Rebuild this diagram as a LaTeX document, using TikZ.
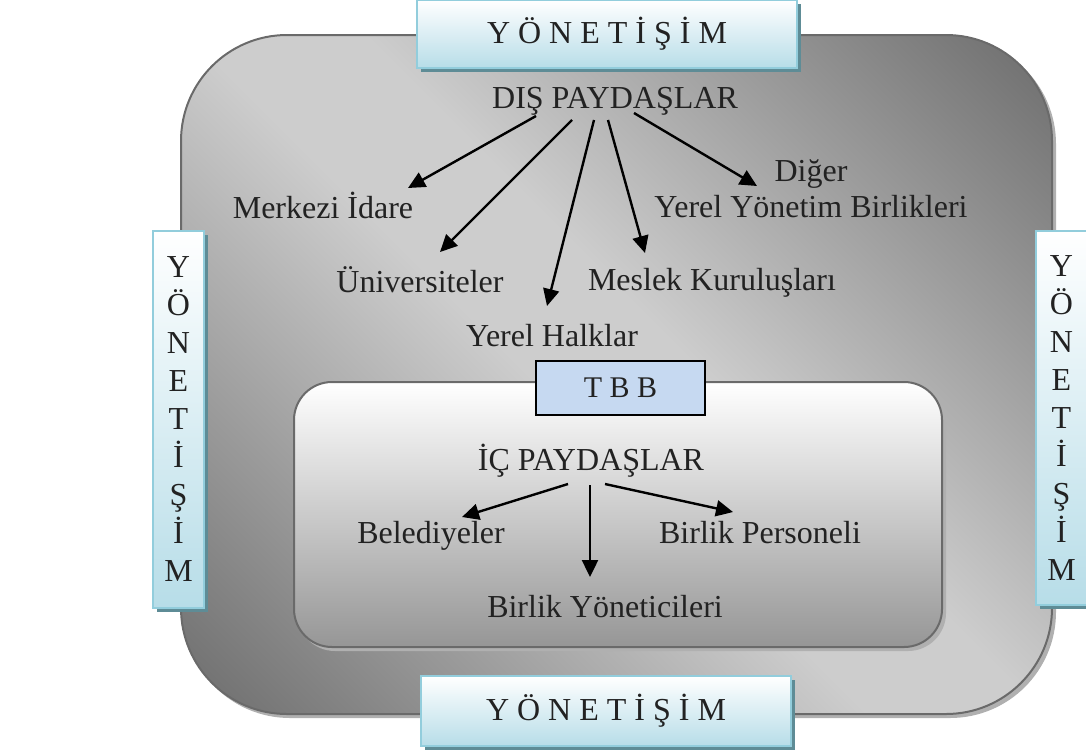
\documentclass[tikz,border=0pt]{standalone}
\usepackage{fontspec}
\setmainfont{Liberation Serif}
\usepackage{tikz}
\usepackage{xcolor}
\usetikzlibrary{arrows.meta,calc,shadows}

\definecolor{outerdark}{HTML}{6A6A6A}
\definecolor{outerlight}{HTML}{CDCDCD}
\definecolor{framegray}{HTML}{6A6A6A}
\definecolor{shadowgray}{HTML}{B0B0B0}
\definecolor{innerbottom}{HTML}{969696}
\definecolor{govblue}{HTML}{B7DDE8}
\definecolor{govframe}{HTML}{92CDDC}
\definecolor{govshadow}{HTML}{5E8C96}
\definecolor{tbbblue}{HTML}{C6D9F1}
\definecolor{inktext}{HTML}{222222}

\pgfdeclareverticalshading{outerband}{100bp}{color(0bp)=(outerdark); color(14bp)=(outerdark);
	color(46bp)=(outerlight); color(54bp)=(outerlight); color(86bp)=(outerdark); color(100bp)=(outerdark)}

\tikzset{
	lbl/.style={inner sep=0pt, text=inktext, font=\fontsize{32}{36}\selectfont},
	govbox/.style={draw=govframe, line width=2.5pt, top color=white, bottom color=govblue,
		inner sep=0pt, text=inktext, font=\fontsize{32}{38}\selectfont, align=center,
		drop shadow={shadow xshift=3.5pt, shadow yshift=-3.5pt, fill=govshadow, opacity=1}},
	arr/.style={-{Triangle[length=17pt,width=16pt]}, line width=2.4pt, black},
}

\begin{document}
\begin{tikzpicture}[x=1pt,y=-1pt]
			\useasboundingbox (0,0) rectangle (1086,753);
			\fill[shadowgray, rounded corners=106pt] (184,38) rectangle (1056,718);
			\shadedraw[rounded corners=106pt, shading=outerband, shading angle=-45,
				draw=framegray, line width=2pt] (181,35) rectangle (1052,714);
			\fill[shadowgray, rounded corners=38pt] (297,385) rectangle (946,651);
			\shadedraw[rounded corners=38pt, top color=white, bottom color=innerbottom,
				draw=framegray, line width=2pt] (294,382) rectangle (942,647);

			\node[govbox, minimum width=380pt, minimum height=68pt] (govT) at (607,34) {Y Ö N E T İ Ş İ M};
			\node[govbox, minimum width=370pt, minimum height=70pt] (govB) at (606,711) {Y Ö N E T İ Ş İ M};
			\node[govbox, minimum width=51pt, minimum height=377pt] (govL) at (178.5,419.5) {Y\\Ö\\N\\E\\T\\İ\\Ş\\İ\\M};
			\node[govbox, minimum width=51pt, minimum height=374pt] (govR) at (1061.5,418) {Y\\Ö\\N\\E\\T\\İ\\Ş\\İ\\M};

			\node[draw=black, line width=2pt, fill=tbbblue, minimum width=169pt, minimum height=54pt,
				inner sep=0pt, text=inktext, font=\fontsize{30}{36}\selectfont] (tbb) at (620.5,388) {T B B};

			\node[lbl, anchor=base] (dis) at (615,108) {DIŞ PAYDAŞLAR};
			\node[lbl, anchor=base] (merkezi) at (323,218) {Merkezi İdare};
			\node[lbl, anchor=base] (univ) at (420,292) {Üniversiteler};
			\node[lbl, anchor=base] (halk) at (552,346) {Yerel Halklar};
			\node[lbl, anchor=base] (meslek) at (712,290) {Meslek Kuruluşları};
			\node[lbl, anchor=south, align=center] (diger) at (811,218) {Diğer\\Yerel Yönetim Birlikleri};

			\node[lbl, anchor=base] (ic) at (591,470) {İÇ PAYDAŞLAR};
			\node[lbl, anchor=base] (beled) at (431,543) {Belediyeler};
			\node[lbl, anchor=base] (bpers) at (760,543) {Birlik Personeli};
			\node[lbl, anchor=base] (byon) at (605,617) {Birlik Yöneticileri};

			\draw[arr] ($(dis.base)+(-79,8)$) -- ($(merkezi.base)+(85,-30)$);
			\draw[arr] ($(dis.base)+(-43,12)$) -- ($(univ.base)+(20,-40)$);
			\draw[arr] ($(dis.base)+(-21,12)$) -- ($(halk.base)+(-5,-40)$);
			\draw[arr] ($(dis.base)+(-7,12)$) -- ($(meslek.base)+(-67,-37)$);
			\draw[arr] ($(dis.base)+(19,5)$) -- ($(diger.south)+(-54,-32)$);

			\draw[arr] ($(ic.base)+(-23,14)$) -- ($(beled.base)+(31,-26)$);
			\draw[arr] ($(ic.base)+(-1,15)$) -- ($(byon.base)+(-15,-40)$);
			\draw[arr] ($(ic.base)+(14,14)$) -- ($(bpers.base)+(-27,-31)$);
		\end{tikzpicture}
\end{document}
